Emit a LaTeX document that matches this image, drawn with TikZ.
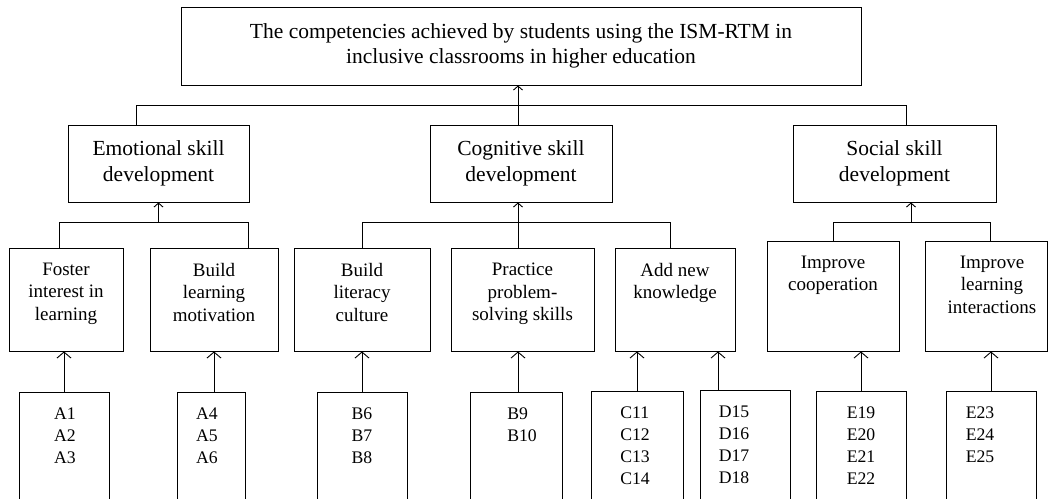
\documentclass[tikz,border=0pt]{standalone}
\usepackage{fontspec}
\setmainfont{Liberation Serif}
\usetikzlibrary{positioning,arrows.meta}

\begin{document}
\begin{tikzpicture}[x=1pt,y=1pt,line width=0.9pt,
    box/.style={draw,inner sep=0pt},
    big/.style={font=\fontsize{21.5}{25.5}\selectfont,align=center},
    mid/.style={font=\fontsize{19}{22.5}\selectfont,align=center,inner sep=0pt},
    small/.style={font=\fontsize{17.7}{22}\selectfont,align=left,inner sep=0pt},
    arr/.style={-{Straight Barb[length=6pt,width=14pt]}},
    arrs/.style={-{Straight Barb[length=4pt,width=9pt]}}]
    \useasboundingbox (0,0) rectangle (1048,-498);
    \clip (0,0) rectangle (1048,-498);

    % goal and the three skills
    \node[box,big,minimum width=680pt,minimum height=78pt] (goal) at (521,-46) {The competencies achieved by students using the ISM-RTM in\\inclusive classrooms in higher education};
    \node[box,big,minimum width=181pt,minimum height=77pt] (emo) at (158.5,-163.5) {Emotional skill\\development};
    \node[box,big,minimum width=182pt,minimum height=77pt] (cog) at (521,-163.5) {Cognitive skill\\development};
    \node[box,big,minimum width=203pt,minimum height=77pt] (soc) at (894.5,-163.5) {Social skill\\development};

    % second level
    \node[box,minimum width=114pt,minimum height=103pt] (foster) at (66,-299.5) {};
    \node[box,minimum width=128pt,minimum height=103pt] (motiv) at (214,-299.5) {};
    \node[box,minimum width=136pt,minimum height=103pt] (liter) at (362,-299.5) {};
    \node[box,minimum width=143pt,minimum height=103pt] (pract) at (522.5,-299.5) {};
    \node[box,minimum width=120pt,minimum height=103pt] (know) at (675,-299.5) {};
    \node[box,minimum width=132pt,minimum height=110pt] (coop) at (833,-296) {};
    \node[box,minimum width=122pt,minimum height=110pt] (inter) at (986,-296) {};
    \node[mid,below=15pt of foster.north] (foster-t) {Foster\\interest in\\learning};
    \node[mid,below=15pt of motiv.north] (motiv-t) {Build\\learning\\motivation};
    \node[mid,below=15pt of liter.north] (liter-t) {Build\\literacy\\culture};
    \node[mid,below=15pt of pract.north] (pract-t) {Practice\\problem-\\solving skills};
    \node[mid,below=15pt of know.north] (know-t) {Add new\\knowledge};
    \node[mid,below=15pt of coop.north] (coop-t) {Improve\\cooperation};
    \node[mid,below=15pt of inter.north,xshift=6pt] (inter-t) {Improve\\learning\\interactions};

    % item codes
    \node[box,anchor=north,minimum width=90pt,minimum height=120pt] (codesA) at (64,-392) {};
    \node[box,anchor=north,minimum width=68pt,minimum height=120pt] (codesB) at (211,-392) {};
    \node[box,anchor=north,minimum width=90pt,minimum height=120pt] (codesC) at (362,-392) {};
    \node[box,anchor=north,minimum width=92pt,minimum height=120pt] (codesD) at (516,-392) {};
    \node[box,anchor=north,minimum width=92pt,minimum height=120pt] (codesE) at (637,-391) {};
    \node[box,anchor=north,minimum width=90pt,minimum height=120pt] (codesF) at (745,-390) {};
    \node[box,anchor=north,minimum width=90pt,minimum height=120pt] (codesG) at (861,-391) {};
    \node[box,anchor=north,minimum width=90pt,minimum height=120pt] (codesH) at (991,-391) {};
    \node[small,below=15pt of codesA.north,xshift=1pt] (codesA-t) {A1\\A2\\A3};
    \node[small,below=15pt of codesB.north,xshift=-4pt] (codesB-t) {A4\\A5\\A6};
    \node[small,below=15pt of codesC.north] (codesC-t) {B6\\B7\\B8};
    \node[small,below=15pt of codesD.north,xshift=6pt] (codesD-t) {B9\\B10};
    \node[small,below=15pt of codesE.north,xshift=-2pt] (codesE-t) {C11\\C12\\C13\\C14};
    \node[small,below=15pt of codesF.north,xshift=-11pt] (codesF-t) {D15\\D16\\D17\\D18};
    \node[small,below=15pt of codesG.north] (codesG-t) {E19\\E20\\E21\\E22};
    \node[small,below=15pt of codesH.north,xshift=-11pt] (codesH-t) {E23\\E24\\E25};

    % codes up to second level
    \coordinate (inD) at ([xshift=2pt]codesD.north);
    \coordinate (inF) at ([xshift=-27pt]codesF.north);
    \draw[arr] (codesA.north) -- (codesA.north |- foster.south);
    \draw[arr] (motiv.south |- codesB.north) -- (motiv.south);
    \draw[arr] (codesC.north) -- (liter.south);
    \draw[arr] (inD) -- (inD |- pract.south);
    \draw[arr] (codesE.north) -- (codesE.north |- know.south);
    \draw[arr] (inF) -- (inF |- know.south);
    \draw[arr] (codesG.north) -- (codesG.north |- coop.south);
    \draw[arr] (codesH.north) -- (codesH.north |- inter.south);

    % second level up to the skills
    \coordinate (emoBus) at ([yshift=-20pt]emo.south);
    \coordinate (fosterIn) at ([xshift=-7pt]foster.north);
    \coordinate (motivIn) at ([xshift=34pt]motiv.north);
    \draw (fosterIn) |- (emoBus) -| (motivIn);
    \draw[arrs] (emoBus) -- (emo.south);
    \coordinate (cogBus) at ([xshift=-3pt,yshift=-20pt]cog.south);
    \coordinate (knowIn) at ([xshift=-5pt]know.north);
    \draw (liter.north) |- (cogBus) -| (knowIn);
    \draw[arrs] (pract.north -| cogBus) -- (cog.south -| cogBus);
    \coordinate (socBus) at ([xshift=16.5pt,yshift=-20pt]soc.south);
    \coordinate (interIn) at ([xshift=4pt]inter.north);
    \draw (coop.north) |- (socBus) -| (interIn);
    \draw[arrs] (socBus) -- (soc.south -| socBus);

    % skills up to the goal
    \coordinate (topBus) at ([xshift=-3pt,yshift=-20pt]goal.south);
    \coordinate (emoIn) at ([xshift=-22.5pt]emo.north);
    \coordinate (socIn) at ([xshift=11.5pt]soc.north);
    \draw (emoIn) |- (topBus) -| (socIn);
    \draw[arrs] (cog.north -| topBus) -- (goal.south -| topBus);
\end{tikzpicture}
\end{document}
